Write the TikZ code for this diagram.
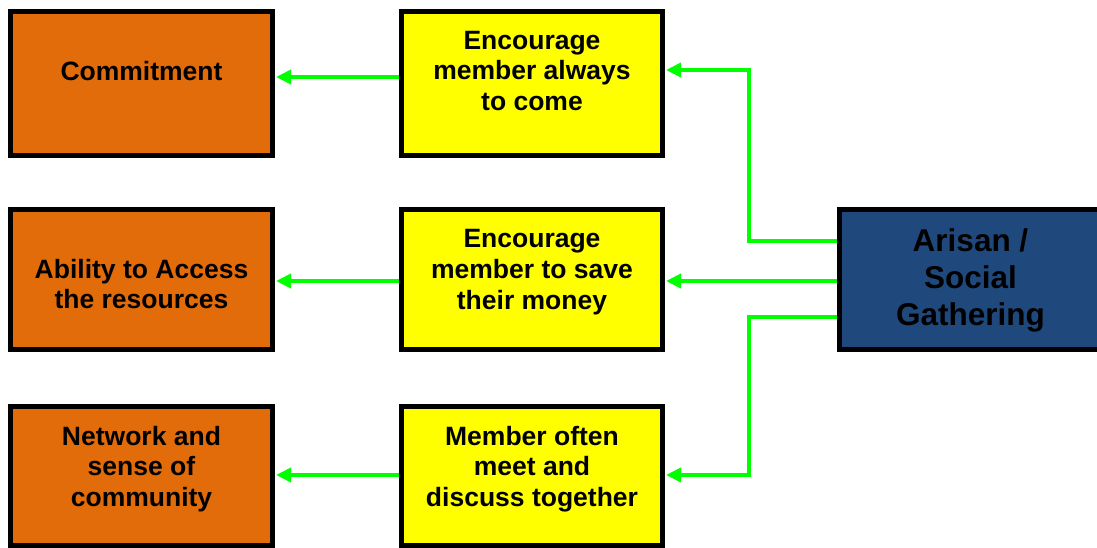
\documentclass[tikz,border=0pt]{standalone}
\usepackage{fontspec}
\setmainfont{Liberation Sans}
\usetikzlibrary{arrows.meta,backgrounds}
\definecolor{boxorange}{HTML}{E36C0A}
\definecolor{boxyellow}{HTML}{FFFF00}
\definecolor{boxblue}{HTML}{1F497D}
\definecolor{linkgreen}{HTML}{00FF00}
\begin{document}
\begin{tikzpicture}[x=1pt,y=-1pt,
  box/.style={draw=black,line width=5pt,rectangle,inner sep=0pt},
  outcome/.style={box,fill=boxorange,minimum width=262pt},
  effect/.style={box,fill=boxyellow,minimum width=261pt},
  source/.style={box,fill=boxblue,minimum width=268pt,minimum height=140pt},
  txt/.style={align=center,font=\fontsize{26.5pt}{30.7pt}\selectfont\bfseries},
  bigtxt/.style={align=center,font=\fontsize{31.5pt}{37pt}\selectfont\bfseries},
  link/.style={draw=linkgreen,line width=4pt,-{Triangle[length=15pt,width=14pt]},shorten >=1pt}]
\useasboundingbox (0,0) rectangle (1097,548);
\clip (0,0) rectangle (1097,548);

% outcome column
\node[outcome,minimum height=144pt] (o1) at (141.5,83.5) {};
\node[outcome,minimum height=140pt] (o2) at (141.5,279.5) {};
\node[outcome,minimum height=139pt] (o3) at (141.5,476) {};
% effect column
\node[effect,minimum height=144pt] (y1) at (532,83.5) {};
\node[effect,minimum height=140pt] (y2) at (532,279.5) {};
\node[effect,minimum height=139pt] (y3) at (532,476) {};
% source box
\node[source] (bl) at (973.5,279.5) {};

% labels
\node[txt] (to1) at (141.5,71) {Commitment};
\node[txt] (to2) at (141.5,284) {Ability to Access\\the resources};
\node[txt] (to3) at (141.5,469) {Network and\\sense of\\community};
\node[txt] (ty1) at (532,71) {Encourage\\member always\\to come};
\node[txt] (ty2) at (532,272) {Encourage\\member to save\\their money};
\node[txt] (ty3) at (532,469) {Member often\\meet and\\discuss together};
\node[bigtxt] (tb) at (970.5,280) {Arisan /\\Social\\Gathering};

% connectors
\begin{scope}[on background layer]
\draw[link] ([yshift=6.5pt]y1.west) -- ([yshift=6.5pt]o1.east);
\draw[link] ([yshift=-1.5pt]y2.west) -- ([yshift=-1.5pt]o2.east);
\draw[link] ([yshift=1pt]y3.west) -- ([yshift=1pt]o3.east);
\draw[link] ([yshift=38.5pt]bl.west) -- ++(-88.5,0) |- ([yshift=13.5pt]y1.east);
\draw[link] ([yshift=-1.5pt]bl.west) -- ([yshift=-1.5pt]y2.east);
\draw[link] ([yshift=-37.5pt]bl.west) -- ++(-88.5,0) |- ([yshift=1pt]y3.east);
\end{scope}
\end{tikzpicture}
\end{document}
